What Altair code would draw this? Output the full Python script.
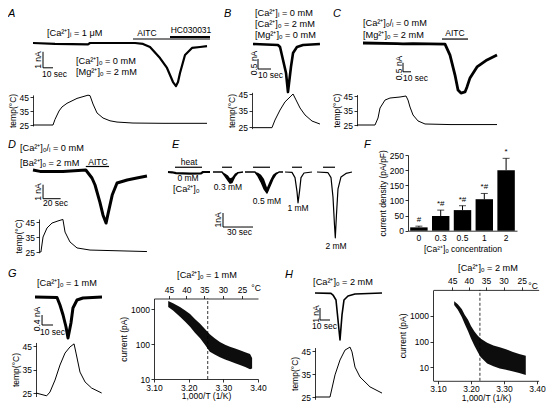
import math
import altair as alt
import pandas as pd

# ---------------- data (time in s, current in nA, temperature in degC) ----------------
# Panel A
A_t = [0, 22, 55, 57, 102, 110, 117, 127, 134, 140, 143, 145, 147, 152, 159, 167, 174]
A_i = [0, -0.06, -0.09, 0, 0, -0.06, -0.25, -0.94, -1.56, -2.44, -2.69, -2.44, -1.88, -0.75, -0.31, -0.25, -0.19]
A_temp_t = [0, 20, 22, 26, 29, 34, 44, 55, 57, 60, 64, 70, 77, 84, 100, 130, 174]
A_temp = [25, 25, 29, 35, 37.9, 40.5, 44, 46.3, 46, 40, 33.6, 30, 28, 27.1, 26.4, 26.2, 26.2]
A_stim_start = [100, 137]
A_stim_end = [177, 177]
A_stim_level = [0.25, 0.38]
A_bar_t = [10, 10, 20]
A_bar_i = [-0.55, -1.55, -1.55]

# Panel B
B_t = [0, 19.2, 20.8, 23.1, 25.4, 26.9, 29.2, 30.8, 33.8, 38.5, 51.5]
B_i = [0, -0.05, -0.15, -0.8, -1.45, -2.4, -1.15, -0.45, -0.15, -0.05, 0]
B_temp_t = [0, 14.6, 16.9, 20.8, 24.6, 28.5, 30.8, 33.1, 36.2, 40, 45.4, 51.5]
B_temp = [24.6, 24.6, 29.2, 35.3, 40.2, 43.2, 45, 41.4, 36.5, 32.3, 28.6, 26.8]
B_bar_t = [3.85, 3.85, 13.85]
B_bar_i = [-0.75, -1.25, -1.25]

# Panel C
C_t = [0, 42.5, 50, 62.5, 102.5, 108.75, 115, 118.75, 122.5, 127.5, 130, 133.75, 142.5, 155, 167.5]
C_i = [0, -0.03, -0.05, -0.03, -0.06, -0.67, -1.78, -2.61, -2.78, -2.72, -2.44, -1.94, -1.33, -0.94, -0.67]
C_temp_t = [-7.5, 15, 18.75, 21.25, 27.5, 33.75, 46.25, 53.75, 56.25, 58.75, 62.5, 68.75, 77.5, 108.75, 167.5]
C_temp = [25, 25, 29.8, 36.7, 42.2, 43.6, 44.3, 45, 42.2, 37.4, 31.9, 27.8, 25.7, 25.3, 25.3]
C_stim_start = [98.75]
C_stim_end = [131.25]
C_stim_level = [0.22]
C_bar_t = [50, 50, 60]
C_bar_i = [-1.1, -1.6, -1.6]

# Panel D
D_t = [0, 8, 34, 60, 67, 70.5, 76, 79.5, 83, 85, 90, 95.5, 107, 118, 129.5]
D_i = [0, -0.1, -0.1, 0, -0.57, -1.07, -2.29, -3.21, -3.79, -3.21, -1.79, -0.93, -0.71, -0.57, -0.43]
D_temp_t = [8, 9, 11.4, 15.9, 21.6, 28.4, 34, 36.4, 42, 50, 64.8, 129.5]
D_temp = [25, 25, 35, 41, 44.3, 45.7, 46.7, 38.3, 31.7, 27.7, 26.3, 25.3]
D_stim_start = [60]
D_stim_end = [86.4]
D_stim_level = [0.25]
D_bar_t = [11.4, 11.4, 31.4]
D_bar_i = [-1.05, -2.05, -2.05]

# Panel E: five recordings on one time axis
E0_t = [0, 4, 8, 22, 33, 35, 42]
E0_i = [0, -0.02, -0.08, -0.12, -0.1, 0, 0]
E1_t = [45, 54, 57, 60, 62, 64, 67, 70, 75]
E1_i = [0, 0, -0.3, -0.6, -0.8, -0.75, -0.3, -0.05, 0]
E1_hi = [0, 0, -0.1, -0.25, -0.45, -0.4, -0.1, 0, 0]
E2_t = [77, 87, 90, 93, 96, 99, 102, 105, 108, 111, 115]
E2_i = [0, 0, -0.3, -0.7, -1.2, -1.5, -1.0, -0.5, -0.15, 0, 0]
E2_hi = [0, 0, -0.05, -0.2, -0.5, -1.1, -0.6, -0.2, -0.03, 0, 0]
E3_t = [117, 124, 127, 129, 130, 131.5, 133, 136, 144]
E3_i = [0, -0.03, -0.4, -1.4, -2.2, -1.4, -0.4, -0.07, 0]
E4_t = [149, 160, 163, 165, 166.5, 167.3, 168.5, 170, 173, 178, 184]
E4_i = [0, -0.05, -0.4, -1.8, -3.8, -4.7, -3.0, -1.2, -0.35, -0.1, 0]
E_stim_start = [7, 54, 85, 124, 155]
E_stim_end = [34, 64, 102, 134, 167]
E_stim_level = [0.34, 0.34, 0.34, 0.34, 0.34]
E_bar_t = [55, 55, 85]
E_bar_i = [-2.93, -3.93, -3.93]

# Panel F
F_conc = ['0', '0.3', '0.5', '1', '2']
F_mean = [11, 48.5, 68, 104, 200]
F_err = [15, 68, 82.5, 123, 239]
F_sig = ['#', '*#', '*#', '*#', '*']

# Panel G
G_t = [0, 20, 22.7, 25.5, 28.2, 30, 32.7, 34.5, 38.2, 43.6, 60.9]
G_i = [0, -0.02, -0.32, -0.72, -1.2, -1.64, -1.04, -0.44, -0.12, -0.04, 0]
G_temp_t = [0.9, 10.6, 13.6, 18.2, 22.7, 27.3, 31.8, 35.5, 37.3, 40.9, 45.5, 51.5, 60.6]
G_temp = [25, 23.8, 25.4, 30.5, 36.9, 42, 44.6, 45.9, 42, 33.9, 29.7, 27.1, 25]
G_bar_t = [6.4, 6.4, 16.4]
G_bar_i = [-0.72, -1.12, -1.12]
G_invT = [3.141, 3.155, 3.175, 3.190, 3.204, 3.218, 3.233, 3.247, 3.261, 3.275, 3.290, 3.305, 3.319, 3.334, 3.348, 3.363, 3.377, 3.383]
G_lo = [1150, 900, 600, 430, 310, 210, 145, 95, 60, 50, 42, 36, 32, 28, 25, 22, 19, 20]
G_hi = [1700, 1450, 1150, 900, 720, 520, 380, 270, 190, 145, 115, 95, 83, 74, 66, 58, 52, 40]
G_dash = 3.255

# Panel H
H_t = [0, 16, 18, 21, 23, 25, 27, 29, 33, 40, 67]
H_i = [0, -0.03, -0.17, -0.58, -2.25, -3.92, -1.83, -0.58, -0.25, -0.08, 0]
H_temp_t = [0, 15, 20, 25, 30, 35, 37, 40, 45, 55, 67]
H_temp = [25, 25, 34.6, 41.1, 45.4, 46.7, 44.6, 38, 33.7, 29.4, 26.7]
H_bar_t = [5, 5, 15]
H_bar_i = [-1.25, -2.25, -2.25]
H_invT = [3.149, 3.160, 3.172, 3.181, 3.191, 3.200, 3.210, 3.220, 3.229, 3.249, 3.268, 3.287, 3.306, 3.325, 3.346, 3.366]
H_lo = [2600, 1700, 900, 480, 250, 130, 70, 40, 25, 14, 11, 9, 8, 7, 6, 5]
H_hi = [3600, 2800, 1800, 1100, 700, 400, 250, 170, 130, 90, 70, 60, 50, 40, 33, 28]
H_dash = 3.227

TOP_C = [45, 40, 35, 30, 25]
TEMP_TICKS = [25, 35, 45]

# ---------------- layout helpers ----------------
M = 8
W_CH, H_CH = 538, 395
FONT = 'Liberation Sans'


def lin(d0, d1, v1, p1, v2, p2):
    k = (p2 - p1) / (v2 - v1)
    return alt.Scale(domain=[d0, d1], range=[p1 + (d0 - v1) * k - M, p1 + (d1 - v1) * k - M],
                     zero=False, nice=False)


def logsc(d0, d1, v1, p1, v2, p2):
    k = (p2 - p1) / (math.log10(v2) - math.log10(v1))
    r0 = p1 + (math.log10(d0) - math.log10(v1)) * k - M
    r1 = p1 + (math.log10(d1) - math.log10(v1)) * k - M
    return alt.Scale(type='log', domain=[d0, d1], range=[r0, r1], nice=False)


ONE = pd.DataFrame({'k': [0]})
layers = []


def line(t, v, xs, ys, w=1.0):
    df = pd.DataFrame({'t': t, 'v': v, 'k': list(range(len(t)))})
    return alt.Chart(df).mark_line(color='black', strokeWidth=w, strokeJoin='round').encode(
        x=alt.X('t:Q', scale=xs, axis=None),
        y=alt.Y('v:Q', scale=ys, axis=None),
        order=alt.Order('k:Q'))


def wedge(t, lo, hi, xs, ys):
    df = pd.DataFrame({'t': t, 'lo': lo, 'hi': hi})
    return alt.Chart(df).mark_area(color='black').encode(
        x=alt.X('t:Q', scale=xs, axis=None),
        y=alt.Y('lo:Q', scale=ys, axis=None), y2='hi:Q')


def temp_line(t, v, xs, ys, axis_x):
    df = pd.DataFrame({'t': t, 'v': v})
    return alt.Chart(df).mark_line(color='black', strokeWidth=1).encode(
        x=alt.X('t:Q', scale=xs, axis=None),
        y=alt.Y('v:Q', scale=ys, axis=alt.Axis(orient='left', offset=-(axis_x - M),
                                                values=TEMP_TICKS, title='temp(°C)')))


def stim(t1, t2, lvl, xs, ys, w=1.2):
    df = pd.DataFrame({'t1': t1, 't2': t2, 'v': lvl})
    return alt.Chart(df).mark_rule(color='black', strokeWidth=w).encode(
        x=alt.X('t1:Q', scale=xs, axis=None), x2='t2:Q',
        y=alt.Y('v:Q', scale=ys, axis=None))


def label(s, x, y, align='left', angle=0, size=8.5, italic=False):
    return alt.Chart(ONE).mark_text(
        text=s, fontSize=size, align=align, baseline='middle', angle=angle,
        fontStyle='italic' if italic else 'normal', color='black', font=FONT
    ).encode(x=alt.value(x - M), y=alt.value(y - M))


# ---------------- panel A ----------------
xA = lin(0, 177, 0, 33, 100, 133)
yA = lin(-2.9, 0.5, 0, 43, -1, 59)
tA = lin(24.3, 46.5, 25, 125, 45, 97)
layers += [line(A_t, A_i, xA, yA, 2.2), line(A_bar_t, A_bar_i, xA, yA, 1),
           stim(A_stim_start[:1], A_stim_end[:1], A_stim_level[:1], xA, yA, 1.2),
           stim(A_stim_start[1:], A_stim_end[1:], A_stim_level[1:], xA, yA, 2),
           temp_line(A_temp_t, A_temp, xA, tA, 33)]

# ---------------- panel B ----------------
xB = lin(0, 52, 0, 253, 10, 266)
yB = lin(-2.5, 0.4, 0, 44, -0.5, 54)
tB = lin(24, 46, 25, 127, 45, 94)
layers += [line(B_t, B_i, xB, yB, 2.6), line(B_bar_t, B_bar_i, xB, yB, 1),
           temp_line(B_temp_t, B_temp, xB, tB, 252)]

# ---------------- panel C ----------------
xC = lin(-8, 168, 0, 363, 10, 371)
yC = lin(-2.9, 0.4, 0, 43, -0.5, 52)
tC = lin(24.5, 46, 25, 125, 45, 96)
layers += [line(C_t, C_i, xC, yC, 2.8), line(C_bar_t, C_bar_i, xC, yC, 1),
           stim(C_stim_start, C_stim_end, C_stim_level, xC, yC),
           temp_line(C_temp_t, C_temp, xC, tC, 357)]

# ---------------- panel D ----------------
xD = lin(0, 131, 0, 33, 20, 50.6)
yD = lin(-3.9, 0.4, 0, 170, -1, 184)
tD = lin(24.5, 47, 25, 252, 45, 222)
layers += [line(D_t, D_i, xD, yD, 3), line(D_bar_t, D_bar_i, xD, yD, 1),
           stim(D_stim_start, D_stim_end, D_stim_level, xD, yD),
           temp_line(D_temp_t, D_temp, xD, tD, 39)]

# ---------------- panel E ----------------
xE = lin(0, 186, 0, 168, 30, 198)
yE = lin(-4.8, 0.5, 0, 172, -1, 186)
layers += [line(E0_t, E0_i, xE, yE, 2.2), line(E1_t, E1_i, xE, yE, 1.4),
           wedge(E1_t, E1_i, E1_hi, xE, yE), line(E2_t, E2_i, xE, yE, 1.4),
           wedge(E2_t, E2_i, E2_hi, xE, yE), line(E3_t, E3_i, xE, yE, 1.2),
           line(E4_t, E4_i, xE, yE, 1.2), line(E_bar_t, E_bar_i, xE, yE, 1),
           stim(E_stim_start, E_stim_end, E_stim_level, xE, yE)]

# ---------------- panel F ----------------
F_df = pd.DataFrame({'c': F_conc, 'm': F_mean, 'e': F_err, 's': F_sig})
fx = alt.Scale(domain=F_conc, range=[408 - M, 517 - M], paddingInner=0.2, paddingOuter=0.1)
fy = lin(0, 250, 0, 230.7, 250, 155)
fbase = alt.Chart(F_df)
layers += [
    fbase.mark_rule(color='black', strokeWidth=1).encode(
        x=alt.X('c:N', scale=fx, axis=None), y=alt.Y('m:Q', scale=fy, axis=None), y2='e:Q'),
    fbase.mark_tick(color='black', thickness=1, size=7).encode(
        x=alt.X('c:N', scale=fx, axis=None), y=alt.Y('e:Q', scale=fy, axis=None)),
    fbase.mark_bar(color='black').encode(
        x=alt.X('c:N', scale=fx, axis=alt.Axis(orient='bottom', offset=230.7 - M - H_CH, ticks=False,
                                               labelAngle=0, labelPadding=3, labelFontSize=8.5,
                                               title='[Ca²⁺]ₒ concentration')),
        y=alt.Y('m:Q', scale=fy, axis=alt.Axis(orient='left', offset=-(408 - M),
                                               values=[0, 50, 100, 150, 200, 250],
                                               title='current density (pA/pF)'))),
    fbase.mark_text(color='black', dy=-6, fontSize=8, font=FONT).encode(
        x=alt.X('c:N', scale=fx, axis=None), y=alt.Y('e:Q', scale=fy, axis=None), text='s:N'),
]

# ---------------- panel G ----------------
xG = lin(0, 61, 0, 35, 10, 46)
yG = lin(-1.7, 0.2, 0, 297, -0.4, 307)
tG = lin(23.5, 46.5, 25, 393, 45, 346)
layers += [line(G_t, G_i, xG, yG, 3), line(G_bar_t, G_bar_i, xG, yG, 1),
           temp_line(G_temp_t, G_temp, xG, tG, 36)]

INV_TOP = [1000 / (c + 273.15) for c in TOP_C]
TOP_LABEL = "format(1000 / datum.value - 273.15, '.0f')"


def arrhenius(xv, lo, hi, dash, xs, ys, x_left, y_bottom, y_top, ymin, ymax):
    df = pd.DataFrame({'x': xv, 'lo': lo, 'hi': hi})
    ddf = pd.DataFrame({'x': [dash], 'y1': [ymin], 'y2': [ymax]})
    band = alt.Chart(df).mark_area(color='black', opacity=0.95).encode(
        x=alt.X('x:Q', scale=xs, axis=alt.Axis(orient='bottom', offset=y_bottom - M - H_CH,
                                               values=[3.1, 3.2, 3.3, 3.4], format='.2f',
                                               labelFlush=False, labelOverlap=False,
                                               labelPadding=1, titlePadding=0,
                                               title='1,000/T (1/K)')),
        y=alt.Y('lo:Q', scale=ys, axis=alt.Axis(orient='left', offset=-(x_left - M),
                                                values=[10, 100, 1000], format='d',
                                                title='current (pA)')),
        y2='hi:Q')
    rule = alt.Chart(ddf).mark_rule(color='black', strokeWidth=0.8, strokeDash=[3, 2]).encode(
        x=alt.X('x:Q', scale=xs, axis=alt.Axis(orient='top', offset=-(y_top - M), values=INV_TOP,
                                               labelExpr=TOP_LABEL, labelFlush=False,
                                               labelOverlap=False, title=None)),
        y=alt.Y('y1:Q', scale=ys, axis=None), y2='y2:Q')
    return [band, rule]


gx = lin(3.10, 3.40, 3.10, 154, 3.40, 258)
gy = logsc(10, 2000, 10, 379, 1000, 309)
layers += arrhenius(G_invT, G_lo, G_hi, G_dash, gx, gy, 154, 379, 298.5, 10, 2000)

# ---------------- panel H ----------------
xH = lin(0, 67, 0, 315, 10, 325)
yH = lin(-4.0, 0.2, 0, 293, -1, 305)
tH = lin(24, 46.5, 25, 397, 45, 351)
layers += [line(H_t, H_i, xH, yH, 1.6), line(H_bar_t, H_bar_i, xH, yH, 1),
           temp_line(H_temp_t, H_temp, xH, tH, 315)]

hx = lin(3.086, 3.405, 3.10, 438, 3.40, 537)
hy = logsc(3, 10000, 10, 367.3, 1000, 315.7)
layers += arrhenius(H_invT, H_lo, H_hi, H_dash, hx, hy, 433, 380.8, 289.9, 3, 10000)

# ---------------- text annotations ----------------
C9 = 9.2
texts = [
    ('A', 8, 14, 'left', 0, 11, True),
    ('[Ca²⁺]ᵢ = 1 μM', 47, 33, 'left', 0, C9, False),
    ('AITC', 147, 33, 'center', 0, 8.5, False),
    ('HC030031', 191, 30, 'center', 0, 8.5, False),
    ('1 nA', 38, 60, 'center', 270, 8.5, False),
    ('10 sec', 42, 74, 'left', 0, 8.5, False),
    ('[Ca²⁺]ₒ = 0 mM', 76, 61, 'left', 0, C9, False),
    ('[Mg²⁺]ₒ = 2 mM', 76, 72, 'left', 0, C9, False),
    ('B', 224, 14, 'left', 0, 11, True),
    ('[Ca²⁺]ᵢ = 0 mM', 255, 13, 'left', 0, C9, False),
    ('[Ca²⁺]ₒ = 2 mM', 255, 24, 'left', 0, C9, False),
    ('[Mg²⁺]ₒ = 0 mM', 255, 35, 'left', 0, C9, False),
    ('0.5 nA', 253.5, 63, 'center', 270, 8.5, False),
    ('10 sec', 258, 75, 'left', 0, 8.5, False),
    ('C', 333, 14, 'left', 0, 11, True),
    ('[Ca²⁺]ₒ/ᵢ = 0 mM', 363, 23, 'left', 0, C9, False),
    ('[Mg²⁺]ₒ = 2 mM', 363, 35, 'left', 0, C9, False),
    ('AITC', 455, 33, 'center', 0, 8.5, False),
    ('0.5 nA', 398.5, 68, 'center', 270, 8.5, False),
    ('10 sec', 403, 78, 'left', 0, 8.5, False),
    ('D', 8, 145, 'left', 0, 11, True),
    ('[Ca²⁺]ₒ/ᵢ = 0 mM', 20, 148, 'left', 0, C9, False),
    ('[Ba²⁺]ₒ = 2 mM', 20, 163, 'left', 0, C9, False),
    ('AITC', 98, 162, 'center', 0, 8.5, False),
    ('1 nA', 38, 192, 'center', 270, 8.5, False),
    ('20 sec', 43, 203, 'left', 0, 8.5, False),
    ('E', 172, 145, 'left', 0, 11, True),
    ('heat', 189, 162, 'center', 0, 8.5, False),
    ('0 mM', 188, 178, 'center', 0, 8.5, False),
    ('[Ca²⁺]ₒ', 173, 189, 'left', 0, C9, False),
    ('0.3 mM', 228, 187, 'center', 0, 8.5, False),
    ('0.5 mM', 267, 201, 'center', 0, 8.5, False),
    ('1 mM', 298, 208, 'center', 0, 8.5, False),
    ('2 mM', 336, 246, 'center', 0, 8.5, False),
    ('1nA', 218, 220, 'center', 270, 8.5, False),
    ('30 sec', 227, 232, 'left', 0, 8.5, False),
    ('F', 364, 145, 'left', 0, 11, True),
    ('G', 8, 274, 'left', 0, 11, True),
    ('[Ca²⁺]ₒ = 1 mM', 37, 283, 'left', 0, C9, False),
    ('0.4 nA', 37, 319, 'center', 270, 8.5, False),
    ('10 sec', 40, 332, 'left', 0, 8.5, False),
    ('[Ca²⁺]ₒ = 1 mM', 207, 275, 'center', 0, C9, False),
    ('°C', 256, 288, 'center', 0, 8.5, False),
    ('H', 285, 275, 'left', 0, 11, True),
    ('[Ca²⁺]ₒ = 2 mM', 343, 282, 'center', 0, C9, False),
    ('1 nA', 315.5, 314, 'center', 270, 8.5, False),
    ('10 sec', 312, 326, 'left', 0, 8.5, False),
    ('[Ca²⁺]ₒ = 2 mM', 488, 268, 'center', 0, C9, False),
    ('°C', 533, 286, 'center', 0, 8.5, False),
]
for s, x, y, al, ang, sz, it in texts:
    layers.append(label(s, x, y, al, ang, sz, it))

chart = alt.layer(*layers).resolve_scale(x='independent', y='independent').properties(
    width=W_CH, height=H_CH, autosize=alt.AutoSizeParams(type='none'), padding=0,
    background='white'
).configure(font=FONT).configure_view(strokeWidth=0).configure_axis(
    labelFontSize=8.5, titleFontSize=8.5, titleFontWeight='normal', tickSize=3,
    domainColor='black', tickColor='black', labelColor='black', titleColor='black',
    grid=False, labelPadding=1.5, titlePadding=2, domainWidth=0.8, tickWidth=0.8,
    labelFont=FONT, titleFont=FONT
)

chart.save('out.html', embed_options={'renderer': 'svg', 'actions': False})
